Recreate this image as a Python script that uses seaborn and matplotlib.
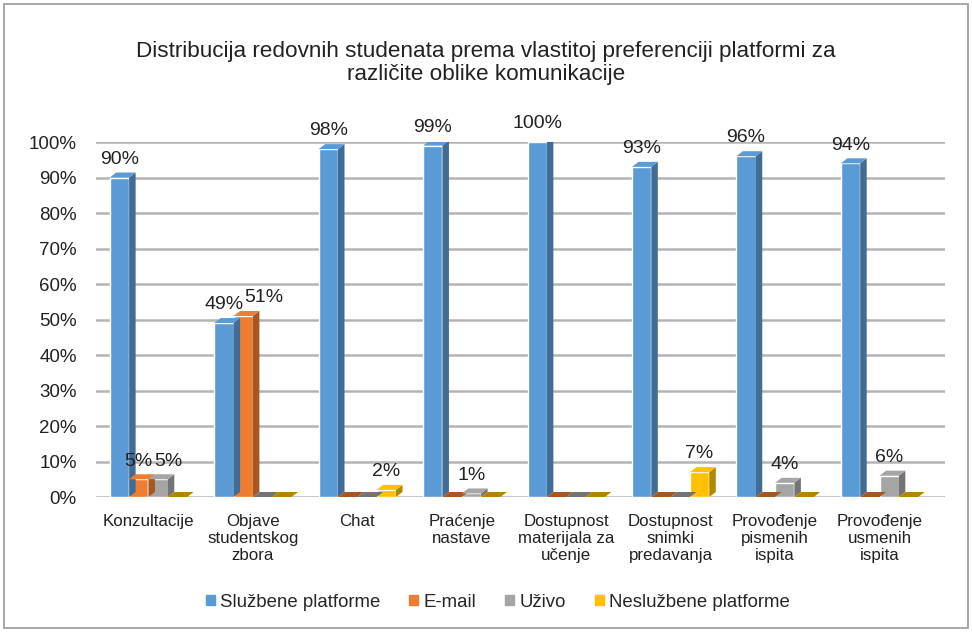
import matplotlib
matplotlib.use("Agg")
import matplotlib.pyplot as plt
import matplotlib.colors as mcolors
from matplotlib.patches import Polygon, Rectangle
import seaborn as sns
import pandas as pd

categories = ["Konzultacije", "Objave\nstudentskog\nzbora", "Chat", "Praćenje\nnastave",
              "Dostupnost\nmaterijala za\nučenje", "Dostupnost\nsnimki\npredavanja",
              "Provođenje\npismenih\nispita", "Provođenje\nusmenih\nispita"]
series = ["Službene platforme", "E-mail", "Uživo", "Neslužbene platforme"]
sluzbene = [90, 49, 98, 99, 100, 93, 96, 94]
email = [5, 51, 0, 0, 0, 0, 0, 0]
uzivo = [5, 0, 0, 1, 0, 0, 4, 6]
nesluzbene = [0, 0, 2, 0, 0, 7, 0, 0]
y_ticks = [0, 10, 20, 30, 40, 50, 60, 70, 80, 90, 100]
title = "Distribucija redovnih studenata prema vlastitoj preferenciji platformi za\nrazličite oblike komunikacije"

colors = ["#5B9BD5", "#ED7D31", "#A5A5A5", "#FFC000"]

rows = []
for s, vals in zip(series, [sluzbene, email, uzivo, nesluzbene]):
    for c, v in zip(categories, vals):
        rows.append({"cat": c, "series": s, "val": v})
df = pd.DataFrame(rows)

sns.set_theme(style="white")
plt.rcParams["font.family"] = ["Liberation Sans", "DejaVu Sans"]

fig = plt.figure(figsize=(9.72, 6.32), dpi=100)
ax = fig.add_axes([0.099, 0.2136, 0.873, 0.5617])

sns.barplot(data=df, x="cat", y="val", hue="series", palette=colors, order=categories,
            hue_order=series, width=0.74, ax=ax, saturation=1, legend=False, zorder=3)

ax.set_ylim(0, 100)
ax.set_xlim(-0.5, len(categories) - 0.5 + 0.125)
ax.set_yticks(y_ticks)
ax.set_yticklabels([f"{t}%" for t in y_ticks], fontsize=13.5, color="#222222")
ax.tick_params(axis="x", labelsize=12.2, colors="#222222", length=0, pad=12)
ax.tick_params(axis="y", length=0, pad=14)
ax.set_xlabel("")
ax.set_ylabel("")
for sp in ax.spines.values():
    sp.set_visible(False)
ax.yaxis.grid(True, color="#B4B4B4", linewidth=1.8, zorder=0)
ax.set_axisbelow(True)

# pseudo-3D faces derived from the bar patches
dx_px, dy_px = 6.5, 5.0
inv = ax.transData.inverted()
(ax0, ay0) = ax.transData.transform((0, 0))
dxd, dyd = inv.transform((ax0 + dx_px, ay0 + dy_px)) - inv.transform((ax0, ay0))
all_labels = []
for cont, col in zip(ax.containers, colors):
    dark = tuple(c * 0.7 for c in mcolors.to_rgb(col))
    for p in cont.patches:
        x0, w, h = p.get_x(), p.get_width(), p.get_height()
        side = Polygon([(x0 + w, 0), (x0 + w + dxd, dyd), (x0 + w + dxd, h + dyd), (x0 + w, h)],
                       closed=True, facecolor=dark, edgecolor="none", zorder=3)
        top = Polygon([(x0, h), (x0 + dxd, h + dyd), (x0 + w + dxd, h + dyd), (x0 + w, h)],
                      closed=True, facecolor=col if h > 0 else dark, edgecolor="none", zorder=3)
        ax.add_patch(side)
        ax.add_patch(top)
    labels = [f"{v:.0f}%" if v > 0 else "" for v in cont.datavalues]
    texts = ax.bar_label(cont, labels=labels, padding=7, fontsize=14, color="#222222")
    all_labels.append(texts)

# push apart overlapping labels within the same category
fig.canvas.draw()
renderer = fig.canvas.get_renderer()
ncat = len(categories)
for i in range(ncat):
    prev = None
    for s in range(len(series)):
        t = all_labels[s][i]
        if not t.get_text():
            continue
        if prev is not None:
            bp = prev.get_window_extent(renderer)
            bt = t.get_window_extent(renderer)
            ov = bp.x1 - bt.x0
            if ov > 0 and bt.y0 < bp.y1 and bp.y0 < bt.y1:
                shift_pt = (ov + 1) * 72.0 / fig.dpi
                ox, oy = t.xyann
                t.xyann = (ox + shift_pt, oy)
        prev = t

fig.suptitle(title, fontsize=16.2, y=0.935, color="#222222", linespacing=1.15)

handles = [Rectangle((0, 0), 1, 1, color=c) for c in colors]
fig.legend(handles, series, loc="center", bbox_to_anchor=(0.512, 0.047), ncol=4, frameon=False,
           fontsize=13.4, handlelength=0.5, handleheight=0.5, handletextpad=0.27, columnspacing=1.55)

fig.add_artist(Rectangle((0.004, 0.006), 0.992, 0.988, transform=fig.transFigure,
                         fill=False, edgecolor="#9A9A9A", linewidth=1.2))

fig.savefig("out.png", dpi=100)
